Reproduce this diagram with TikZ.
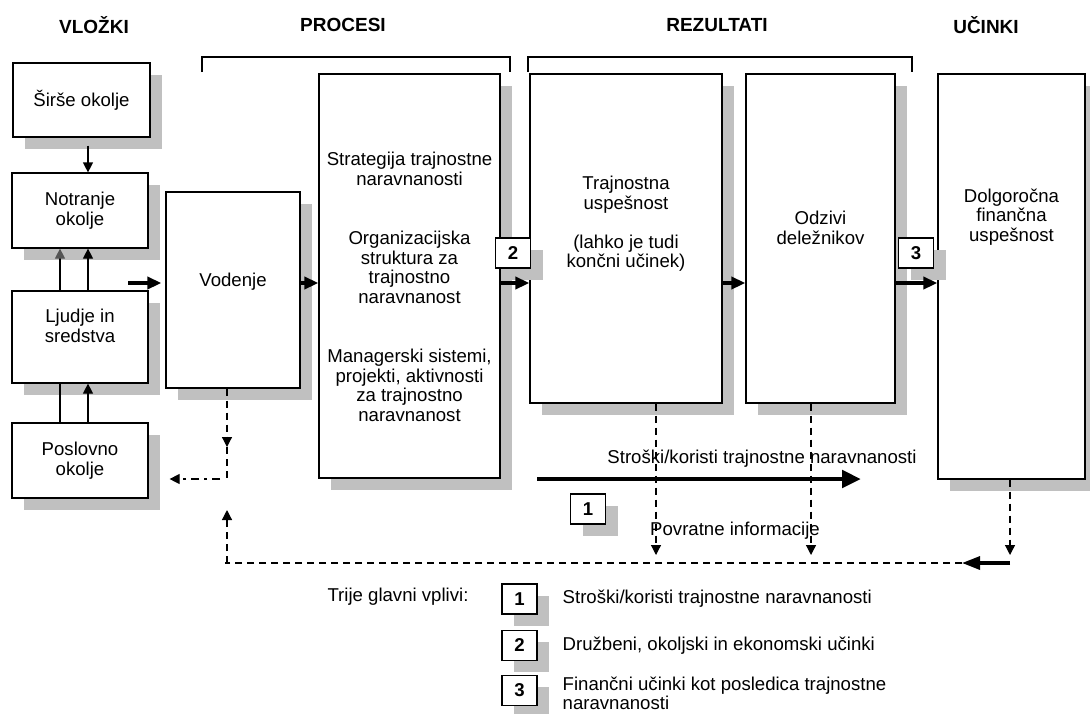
\documentclass[tikz,border=0pt]{standalone}
\usepackage{fontspec}
\setmainfont{Liberation Sans}
\usepackage{xcolor}
\usepackage{tikz}
\usetikzlibrary{shapes, arrows.meta, positioning, shadows}

\definecolor{senca}{RGB}{192,192,192}
\definecolor{temnosiva}{RGB}{85,85,85}
\newcommand{\besedilo}{\fontsize{9.3pt}{9.75pt}\selectfont}
\newcommand{\glavafont}{\fontsize{9.5pt}{11pt}\selectfont\bfseries}

\begin{document}
\begin{tikzpicture}[x=0.5pt, y=-0.5pt, node distance=8pt,
    blok/.style={draw, rectangle, fill=white, line width=0.6pt, align=center, font=\besedilo, inner sep=0pt,
        drop shadow={shadow xshift=6pt, shadow yshift=-6pt, fill=senca, opacity=1}},
    stevilka/.style={blok, minimum width=17.5pt, minimum height=15pt, font=\besedilo\bfseries},
    napis/.style={align=center, font=\besedilo},
    glava/.style={font=\glavafont},
    tanka/.style={line width=0.6pt, -{Triangle[length=5pt, width=5pt]}},
    debela/.style={line width=1.8pt, -{Triangle[length=7pt, width=6pt]}},
    crtkano/.style={line width=0.6pt, dash pattern=on 3.5pt off 2.5pt},
    crtapika/.style={line width=0.6pt, dash pattern=on 4pt off 2.5pt on 1.5pt off 2.5pt}]
    \useasboundingbox (0,0) rectangle (1090,713);

    % naslovi
    \node[glava] (vlozki) at (94,25) {VLOŽKI};
    \node[glava] (procesi-g) at (343,25) {PROCESI};
    \node[glava] (rezultati) at (717,25) {REZULTATI};
    \node[glava] (ucinki) at (986,25) {UČINKI};
    \draw[line width=0.6pt] (202,72) -- (202,57) -- (510,57) -- (510,72);
    \draw[line width=0.6pt] (528,72) -- (528,57) -- (912,57) -- (912,72);

    % vlozki
    \node[blok, minimum width=68.5pt, minimum height=37pt] (sirse) at (81.5,100) {Širše okolje};
    \node[blok, minimum width=68pt, minimum height=37.5pt] (notranje) at (80,210.5) {Notranje\\okolje};
    \node[blok, minimum width=68pt, minimum height=46pt] (ljudje) at (80,337) {};
    \node[napis] (ljudje-t) at (80,326) {Ljudje in\\sredstva};
    \node[blok, minimum width=68pt, minimum height=37.5pt] (poslovno) at (80,460.5) {Poslovno\\okolje};

    % procesi
    \node[blok, minimum width=67pt, minimum height=98pt] (vodenje) at (233,290) {};
    \node[napis] (vodenje-t) at (233,282) {Vodenje};
    \node[blok, minimum width=90.5pt, minimum height=202pt] (procesi) at (409.5,276) {};
    \node[napis] (procesi-t) at (409.5,287) {Strategija trajnostne\\naravnanosti\\[20pt]Organizacijska\\struktura za\\trajnostno\\naravnanost\\[20pt]Managerski sistemi,\\projekti, aktivnosti\\za trajnostno\\naravnanost};

    % rezultati in ucinki
    \node[blok, minimum width=96pt, minimum height=164.5pt] (trajn) at (626,238.5) {};
    \node[napis] (trajn-t) at (626,224) {Trajnostna\\uspešnost\\[9.75pt](lahko je tudi\\končni učinek)};
    \node[blok, minimum width=74.5pt, minimum height=164.5pt] (odzivi) at (820.5,238.5) {};
    \node[napis] (odzivi-t) at (820.5,228) {Odzivi\\deležnikov};
    \node[blok, minimum width=73.5pt, minimum height=202.5pt] (dolgor) at (1011.5,276.5) {};
    \node[napis] (dolgor-t) at (1011.5,217) {Dolgoročna\\finančna\\uspešnost};

    \node[stevilka] (st2) at (513,253) {2};
    \node[stevilka] (st3) at (916,253) {3};
    \node[stevilka] (st1) at (588,509) {1};

    % puscice med bloki
    \draw[tanka, shorten <=4pt] ([xshift=3.25pt]sirse.south) -- ([xshift=4pt]notranje.north);
    \draw[line width=0.6pt, -{Triangle[length=5pt, width=5pt, color=temnosiva]}] ([xshift=-10pt]ljudje.north) -- ([xshift=-10pt]notranje.south);
    \draw[tanka] ([xshift=4pt]ljudje.north) -- ([xshift=4pt]notranje.south);
    \draw[line width=0.6pt] ([xshift=-10pt]poslovno.north) -- ([xshift=-10pt]ljudje.south);
    \draw[tanka] ([xshift=4pt]poslovno.north) -- ([xshift=4pt]ljudje.south);

    \coordinate (vhod) at (128,283);
    \draw[debela, shorten >=2pt] (vhod) -- (vhod -| vodenje.west);
    \draw[debela] (vodenje.east |- vhod) -- (procesi.west |- vhod);
    \draw[debela] (procesi.east |- vhod) -- (trajn.west |- vhod);
    \draw[debela] (trajn.east |- vhod) -- (odzivi.west |- vhod);
    \draw[debela] (odzivi.east |- vhod) -- (dolgor.west |- vhod);

    % stroski / koristi
    \coordinate (strosek-a) at (537,479);
    \coordinate (strosek-b) at (861,479);
    \draw[line width=2.4pt, -{Triangle[length=9.5pt, width=8.5pt]}] (strosek-a) -- (strosek-b);
    \node[napis] (strosek) at (762,459) {Stroški/koristi trajnostne naravnanosti};
    \node[napis] (povratne) at (735,531) {Povratne informacije};

    % povratne informacije
    \coordinate (k1) at (656,555);
    \coordinate (k2) at (811,555);
    \coordinate (k3) at (1010,555);
    \coordinate (kot) at (225,563);
    \coordinate (povr-zacetek) at (1010,563);
    \coordinate (povr-konec) at (962,563);
    \draw[crtkano, tanka] (trajn.south -| k1) -- (k1);
    \draw[crtkano, tanka] (odzivi.south -| k2) -- (k2);
    \draw[crtkano, tanka] (dolgor.south -| k3) -- (k3);
    \draw[line width=1.6pt, -{Triangle[length=9pt, width=6.5pt]}] (povr-zacetek) -- (povr-konec);
    \draw[crtkano] (povr-konec) -- (kot);
    \coordinate (v-gor) at (227,510);
    \coordinate (v-dol) at (227,447);
    \coordinate (v-sredina) at (227,479);
    \coordinate (v-levo) at (220,479);
    \draw[crtkano, tanka] (kot -| v-gor) -- (v-gor);
    \draw[crtkano, tanka] (vodenje.south -| v-dol) -- (v-dol);
    \draw[crtkano] (v-dol) -- (v-sredina);
    \draw[crtapika, tanka, shorten >=10.5pt] (v-levo) -- (v-levo -| poslovno.east);

    % legenda
    \node[napis] (vplivi) at (398,597) {Trije glavni vplivi:};
    \node[stevilka] (l1) at (519.5,599) {1};
    \node[stevilka, below=7.5pt of l1] (l2) {2};
    \node[stevilka, below=7pt of l2] (l3) {3};
    \node[napis, right=9pt of l1] (l1-t) {Stroški/koristi trajnostne naravnanosti};
    \node[napis, right=9pt of l2] (l2-t) {Družbeni, okoljski in ekonomski učinki};
    \node[napis, right=9pt of l3, align=left, font=\fontsize{9.3pt}{8.3pt}\selectfont, yshift=-1.5pt] (l3-t) {Finančni učinki kot posledica trajnostne\\naravnanosti};
\end{tikzpicture}
\end{document}
